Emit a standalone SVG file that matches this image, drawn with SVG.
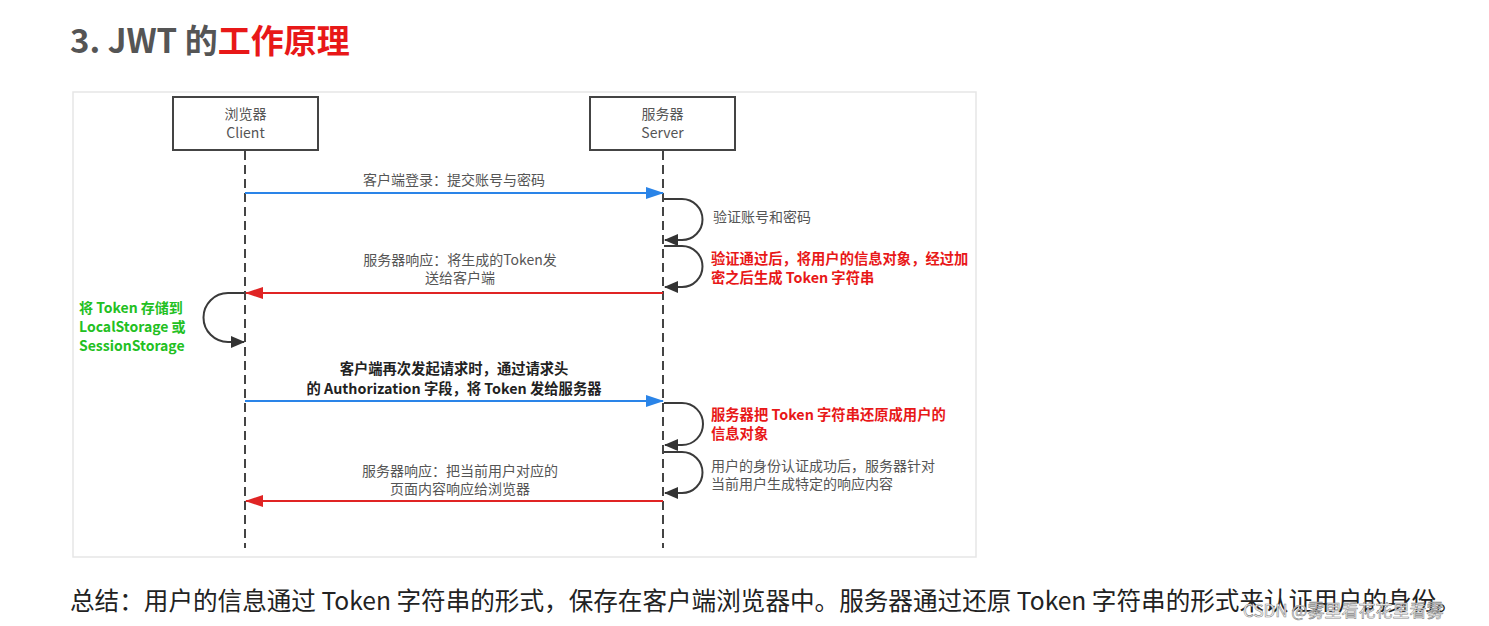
<svg xmlns="http://www.w3.org/2000/svg" width="1489" height="626" viewBox="0 0 1489 626">
<style>
.t{font-family:"Noto Sans CJK SC","Liberation Sans",sans-serif;}
.lbl{font-size:14px;fill:#555;text-anchor:middle;}
.side{font-size:14px;fill:#555;}
.red{font-size:14.3px;fill:#e81818;font-weight:bold;}
.grn{font-size:14px;fill:#22c022;font-weight:bold;}
.blk{font-size:14.3px;fill:#222;font-weight:bold;text-anchor:middle;}
.box{fill:#fff;stroke:#444;stroke-width:2;}
.life{stroke:#444;stroke-width:2;stroke-dasharray:9,5;fill:none;}
.blue{stroke:#2a84e8;stroke-width:2;fill:none;}
.redl{stroke:#e02424;stroke-width:2;fill:none;}
.loop{stroke:#3a3a3a;stroke-width:2;fill:none;}
</style>
<defs>
<marker id="mb" markerWidth="18" markerHeight="12" refX="17" refY="6" orient="auto" markerUnits="userSpaceOnUse"><path d="M0,0 L18,6 L0,12 Z" fill="#2a84e8"/></marker>
<marker id="mr" markerWidth="18" markerHeight="12" refX="17" refY="6" orient="auto" markerUnits="userSpaceOnUse"><path d="M0,0 L18,6 L0,12 Z" fill="#e02424"/></marker>
<marker id="mk" markerWidth="14" markerHeight="12" refX="13" refY="6" orient="auto" markerUnits="userSpaceOnUse"><path d="M0,0 L14,6 L0,12 Z" fill="#333"/></marker>
</defs>
<rect width="1489" height="626" fill="#fff"/>
<text class="t" x="70" y="53" font-size="33" font-weight="bold"><tspan fill="#555">3. JWT 的</tspan><tspan fill="#e81818">工作原理</tspan></text>
<rect x="73" y="92" width="903" height="465" fill="#fff" stroke="#e6e6e6" stroke-width="1.5"/>
<g id="client">
<rect class="box" x="173" y="97" width="145" height="53"/>
<text class="t lbl" x="245.5" y="119">浏览器</text>
<text class="t lbl" x="245.5" y="138">Client</text>
</g>
<g id="server">
<rect class="box" x="590" y="97" width="145" height="53"/>
<text class="t lbl" x="662.5" y="119">服务器</text>
<text class="t lbl" x="662.5" y="138">Server</text>
</g>
<g id="connectors">
<line class="life" x1="245" y1="151" x2="245" y2="548"/>
<line class="life" x1="663" y1="151" x2="663" y2="548"/>
<line class="blue" x1="245" y1="193" x2="663" y2="193" marker-end="url(#mb)"/>
<path class="loop" d="M664,199 H682 A20.5,20.5 0 0 1 682,240 H665" marker-end="url(#mk)"/>
<path class="loop" d="M664,246 H682 A20.5,20.5 0 0 1 682,287 H665" marker-end="url(#mk)"/>
<line class="redl" x1="663" y1="293" x2="246" y2="293" marker-end="url(#mr)"/>
<path class="loop" d="M244,293 H228 A24.5,24.5 0 0 0 228,342 H244" marker-end="url(#mk)"/>
<line class="blue" x1="245" y1="401" x2="663" y2="401" marker-end="url(#mb)"/>
<path class="loop" d="M664,403 H682 A21,21 0 0 1 682,445 H665" marker-end="url(#mk)"/>
<path class="loop" d="M664,452 H682 A20.5,20.5 0 0 1 682,493 H665" marker-end="url(#mk)"/>
<line class="redl" x1="663" y1="501" x2="246" y2="501" marker-end="url(#mr)"/>
</g>
<g id="labels">
<text class="t lbl" x="454" y="185">客户端登录：提交账号与密码</text>
<text class="t side" x="713" y="222">验证账号和密码</text>
<text class="t red" x="711" y="264">验证通过后，将用户的信息对象，经过加</text>
<text class="t red" x="711" y="283">密之后生成 Token 字符串</text>
<text class="t lbl" x="460" y="265">服务器响应：将生成的Token发</text>
<text class="t lbl" x="460" y="283">送给客户端</text>
<text class="t grn" x="79" y="313">将 Token 存储到</text>
<text class="t grn" x="79" y="332">LocalStorage 或</text>
<text class="t grn" x="79" y="351">SessionStorage</text>
<text class="t blk" x="454" y="374">客户端再次发起请求时，通过请求头</text>
<text class="t blk" x="454" y="394">的 Authorization 字段，将 Token 发给服务器</text>
<text class="t red" x="711" y="420">服务器把 Token 字符串还原成用户的</text>
<text class="t red" x="711" y="439">信息对象</text>
<text class="t side" x="711" y="471">用户的身份认证成功后，服务器针对</text>
<text class="t side" x="711" y="489">当前用户生成特定的响应内容</text>
<text class="t lbl" x="460" y="476">服务器响应：把当前用户对应的</text>
<text class="t lbl" x="460" y="494">页面内容响应给浏览器</text>
</g>
<text class="t" x="70" y="610" font-size="24.6" fill="#222">总结：用户的信息通过 Token 字符串的形式，保存在客户端浏览器中。服务器通过还原 Token 字符串的形式来认证用户的身份。</text>
<text class="t" x="1243" y="617" font-size="17" fill="#fff" stroke="#888" stroke-width="0.6">CSDN @雾里看花花里看雾</text>
</svg>
